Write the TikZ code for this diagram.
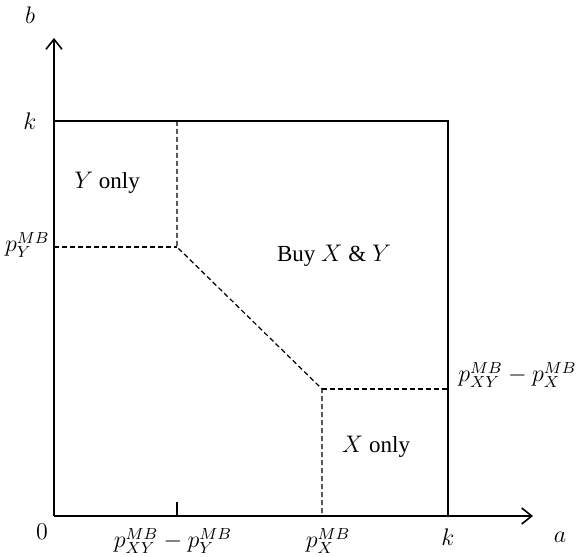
\documentclass[tikz,border=0pt]{standalone}
\usepackage{fontspec}
\setmainfont{Liberation Serif}
\usetikzlibrary{arrows.meta}

\tikzset{
  axis/.style={line width=0.8pt,-{Straight Barb[length=5pt,width=8pt]}},
  border/.style={line width=0.55pt},
  split/.style={line width=0.6pt,dash pattern=on 2.5pt off 1.5pt},
  lab/.style={inner sep=1pt,font=\fontsize{12}{14}\selectfont}
}

\begin{document}
\begin{tikzpicture}[x=0.5pt,y=0.5pt,font=\fontsize{11.5}{14}\selectfont]
    \useasboundingbox (0,0) rectangle (581,556);

    % corner points
    \coordinate (O) at (54,40);
    \coordinate (ytop) at (54,518);
    \coordinate (xend) at (533,40);
    \coordinate (kb) at (54,435);
    \coordinate (kk) at (448,435);
    \coordinate (ka) at (448,40);
    \coordinate (A) at (177,435);
    \coordinate (B) at (177,309);
    \coordinate (Bl) at (54,309);
    \coordinate (C) at (322,167);
    \coordinate (D) at (448,167);
    \coordinate (E) at (322,40);
    \coordinate (tick) at (177,40);
    \coordinate (ticktop) at (177,54);

    % axes
    \draw[axis] (O) -- (ytop);
    \draw[axis] (O) -- (xend);
    \node[lab] (lb) at (30,541) {$b$};
    \node[lab] (la) at (560,19) {$a$};
    \node[lab] (l0) at (42,24) {$0$};

    % square of side k
    \draw[border] (kb) -- (kk) -- (ka);
    \node[lab] (lkb) at (30,435) {$k$};
    \node[lab] (lka) at (448,19) {$k$};
    \draw[border] (tick) -- (ticktop);

    % regions
    \draw[split] (A) -- (B) -- (C) -- (E);
    \draw[split] (Bl) -- (B);
    \draw[split] (C) -- (D);

    % thresholds
    \node[lab,anchor=east] (lpy) at (52,311) {$p_Y^{MB}$};
    \node[lab] (lpxy) at (173,15) {$p_{XY}^{MB}-p_Y^{MB}$};
    \node[lab] (lpx) at (328,15) {$p_X^{MB}$};
    \node[lab,anchor=east] (lpxx) at (579,181) {$p_{XY}^{MB}-p_X^{MB}$};

    % region labels
    \node (ronly) at (107,373) {$Y$ only};
    \node (rboth) at (334,300) {Buy $X$ \& $Y$};
    \node (xonly) at (376,109) {$X$ only};
\end{tikzpicture}
\end{document}
